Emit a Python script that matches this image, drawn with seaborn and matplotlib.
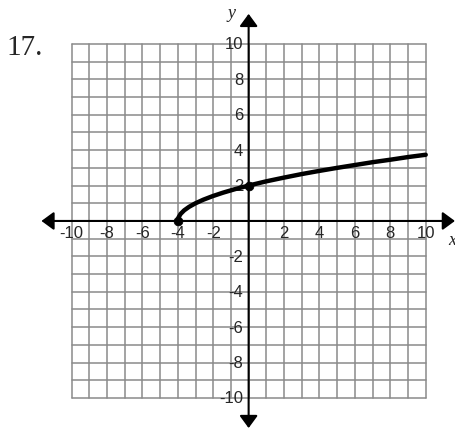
import numpy as np
import pandas as pd
import seaborn as sns
import matplotlib.pyplot as plt

# -----------------------------
# data
# -----------------------------
curve_x = [-4, -3.96, -3.84, -3.64, -3.36, -3, -2.56, -2.04, -1.44, -0.76,
           0, 1, 2, 3, 4, 5, 6, 7, 8, 9, 10]
curve_y = [0, 0.2, 0.4, 0.6, 0.8, 1, 1.2, 1.4, 1.6, 1.8,
           2, 2.24, 2.45, 2.65, 2.83, 3, 3.16, 3.32, 3.46, 3.61, 3.74]
point_x = [-4, 0]
point_y = [0, 2]
x_ticks = [-10, -8, -6, -4, -2, 2, 4, 6, 8, 10]
y_ticks = [10, 8, 6, 4, 2, -2, -4, -6, -8, -10]
grid_lines = list(range(-10, 11))

curve = pd.DataFrame({'x': curve_x, 'y': curve_y})
points = pd.DataFrame({'x': point_x, 'y': point_y})

sns.set_theme(style='white')
plt.rcParams['font.family'] = ['Liberation Sans', 'DejaVu Sans']

fig = plt.figure(figsize=(4.56, 4.31), dpi=100)
ax = fig.add_axes([0, 0, 1, 1])
ax.set_xlim(-14.04, 11.71)
ax.set_ylim(-11.81, 12.54)

# grid
for g in grid_lines:
    ax.plot([g, g], [-10, 10], color='#8a8a8a', lw=1.1, zorder=1)
    ax.plot([-10, 10], [g, g], color='#8a8a8a', lw=1.1, zorder=1)

# axes with arrows
arrow = dict(arrowstyle='<|-|>,head_length=0.75,head_width=0.55',
             color='black', lw=1.5, shrinkA=0, shrinkB=0, mutation_scale=10)
ax.annotate('', xy=(11.65, 0), xytext=(-11.7, 0), arrowprops=arrow, zorder=2)
ax.annotate('', xy=(0, 11.7), xytext=(0, -11.7), arrowprops=arrow, zorder=2)

# tick labels
for t in x_ticks:
    ax.text(t, -0.22, str(t), ha='center', va='top', fontsize=12, zorder=3)
for t in y_ticks:
    ax.text(-0.3, t, str(t), ha='right', va='center', fontsize=12, zorder=3)

ax.text(-0.94, 11.75, 'y', family='Liberation Serif', style='italic',
        fontsize=13, ha='center', va='center')
ax.text(11.48, -1.05, 'x', family='Liberation Serif', style='italic',
        fontsize=13, ha='center', va='center')
ax.text(-13.65, 9.43, '17.', family='Liberation Serif', fontsize=21,
        ha='left', va='baseline')

# the curve
sns.lineplot(data=curve, x='x', y='y', color='black', lw=3.2, ax=ax,
             sort=False, zorder=4)
sns.scatterplot(data=points, x='x', y='y', color='black', s=40,
                edgecolor='black', ax=ax, zorder=5)
ax.axis('off')

fig.savefig('out.png', dpi=100)
